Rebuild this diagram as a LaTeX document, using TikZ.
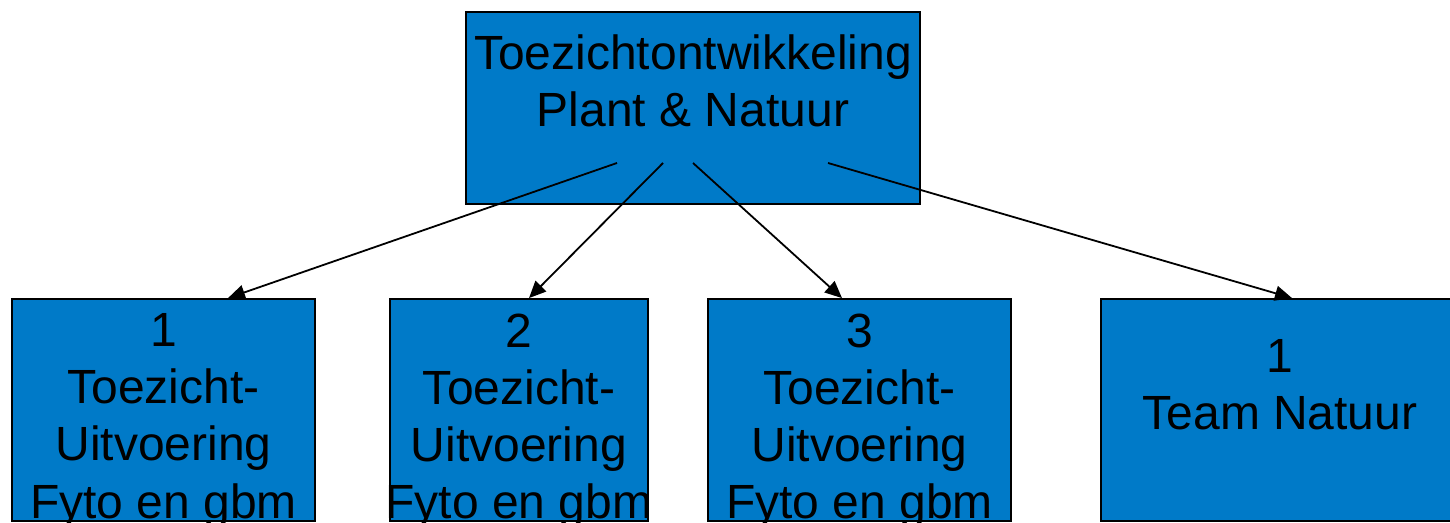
\documentclass[tikz,border=0pt]{standalone}
\usepackage{fontspec}
\setmainfont{Liberation Sans}
\usetikzlibrary{arrows.meta, positioning, calc}
\definecolor{boxblue}{RGB}{0,122,200}

\begin{document}
\begin{tikzpicture}[x=0.5pt, y=0.5pt,
  bbox/.style = {draw=black, line width=0.9pt, fill=boxblue, rectangle, inner sep=0, minimum height=111pt},
  ltext/.style = {inner sep=0, align=center, font=\fontsize{24}{28.6}\selectfont},
  marr/.style = {line width=0.9pt, -{Triangle[length=8.5pt, width=7.5pt]}},
  ]
  \useasboundingbox (0,0) rectangle (1450,523);
  % boxes
  \node[bbox, minimum width=227pt, minimum height=96pt] (top) at (693,415) {};
  \node[bbox, minimum width=151.5pt] (b1) at (163.5,113) {};
  \node[bbox, minimum width=129pt] (b2) at (519,113) {};
  \node[bbox, minimum width=151.5pt] (b3) at (859.5,113) {};
  \node[bbox, minimum width=179pt] (b4) at (1280,113) {};
  % texts
  \node[ltext, below = 11.5pt of top.north] (ttop) {Toezichtontwikkeling\\Plant \& Natuur};
  \node[ltext, below = 7.5pt of b1.north] (t1) {1\\Toezicht-\\Uitvoering\\Fyto en gbm};
  \node[ltext, below = 7.5pt of b2.north] (t2) {2\\Toezicht-\\Uitvoering\\Fyto en gbm};
  \node[ltext, below = 7.5pt of b3.north] (t3) {3\\Toezicht-\\Uitvoering\\Fyto en gbm};
  \node[ltext, below = 20.5pt of b4.north] (t4) {1\\Team Natuur};
  % arrow starts inside the top box
  \coordinate (s1) at ([xshift=-38pt, yshift=-27.5pt]top.center);
  \coordinate (s2) at ([xshift=-15pt, yshift=-27.5pt]top.center);
  \coordinate (s3) at ([xshift=0pt, yshift=-27.5pt]top.center);
  \coordinate (s4) at ([xshift=67.5pt, yshift=-27.5pt]top.center);

  \draw[marr] (s1) -- ([xshift=32.25pt]b1.north);
  \draw[marr] (s2) -- ([xshift=5pt]b2.north);
  \draw[marr] (s3) -- ([xshift=-8.75pt]b3.north);
  \draw[marr] (s4) -- ([xshift=6pt]b4.north);
\end{tikzpicture}
\end{document}
